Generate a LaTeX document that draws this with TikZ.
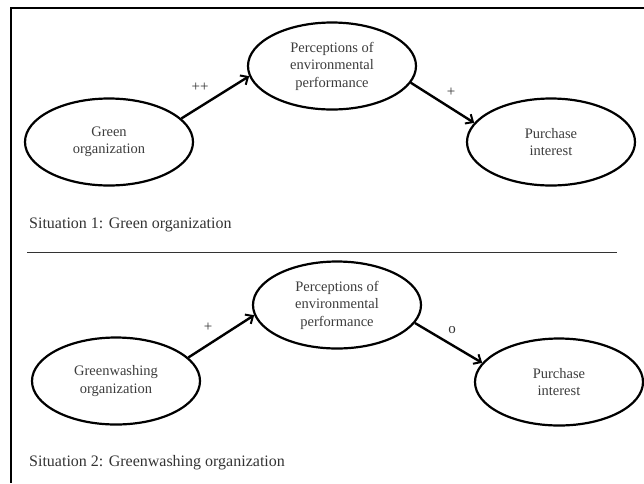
\documentclass[tikz,border=0pt]{standalone}
\usepackage{fontspec}
\setmainfont{Liberation Serif}
\usetikzlibrary{shapes.geometric,arrows.meta}
\definecolor{txtgray}{HTML}{3C3C3C}
\definecolor{capgray}{HTML}{333333}
\tikzset{
  oval/.style={ellipse, draw=black, line width=2.2pt, minimum width=168pt, minimum height=87pt,
    inner sep=0pt, align=center, text=txtgray, font=\fontsize{14.5}{17.5}\selectfont},
  link/.style={line width=2.4pt, -{Straight Barb[length=6pt,width=11pt,line width=2pt]}},
  elabel/.style={text=capgray, font=\fontsize{15}{17}\selectfont, inner sep=0pt},
  caption/.style={anchor=west, text=capgray, font=\fontsize{16}{18}\selectfont, inner sep=0pt},
}
\begin{document}
\begin{tikzpicture}[x=1pt,y=-1pt]
\useasboundingbox (0,0) rectangle (644,483);
% frame
\coordinate (fr) at (644,8);
\coordinate (fc) at (11,8);
\coordinate (fb) at (11,483);
\draw[line width=2.2pt] (fr) -- (fc) -- (fb);
% separator
\coordinate (s1) at (27,252);
\coordinate (s2) at (617,252);
\draw[line width=1pt, draw=capgray] (s1) -- (s2);

% situation 1
\node[oval] (g1) at (109,142) {Green\\organization};
\node[oval] (p1) at (332,66) {Perceptions of\\environmental\\performance};
\node[oval] (u1) at (551,142) {Purchase\\interest};
\draw[link] (g1.18) -- (p1.187);
\draw[link] (p1.-12) -- (u1.166);
\node[elabel] (l11) at (200,87) {++};
\node[elabel] (l12) at (451,92) {+};
\node[caption] (c1) at (29,225) {Situation 1: Green organization};

% situation 2
\node[oval] (g2) at (116,381) {Greenwashing\\organization};
\node[oval] (p2) at (337,305) {Perceptions of\\environmental\\performance};
\node[oval] (u2) at (559,382) {Purchase\\interest};
\draw[link] (g2.18) -- (p2.187);
\draw[link] (p2.-13) -- (u2.166);
\node[elabel] (l21) at (208,327) {+};
\node[elabel] (l22) at (452,330) {o};
\node[caption] (c2) at (29,463) {Situation 2: Greenwashing organization};
\end{tikzpicture}
\end{document}
